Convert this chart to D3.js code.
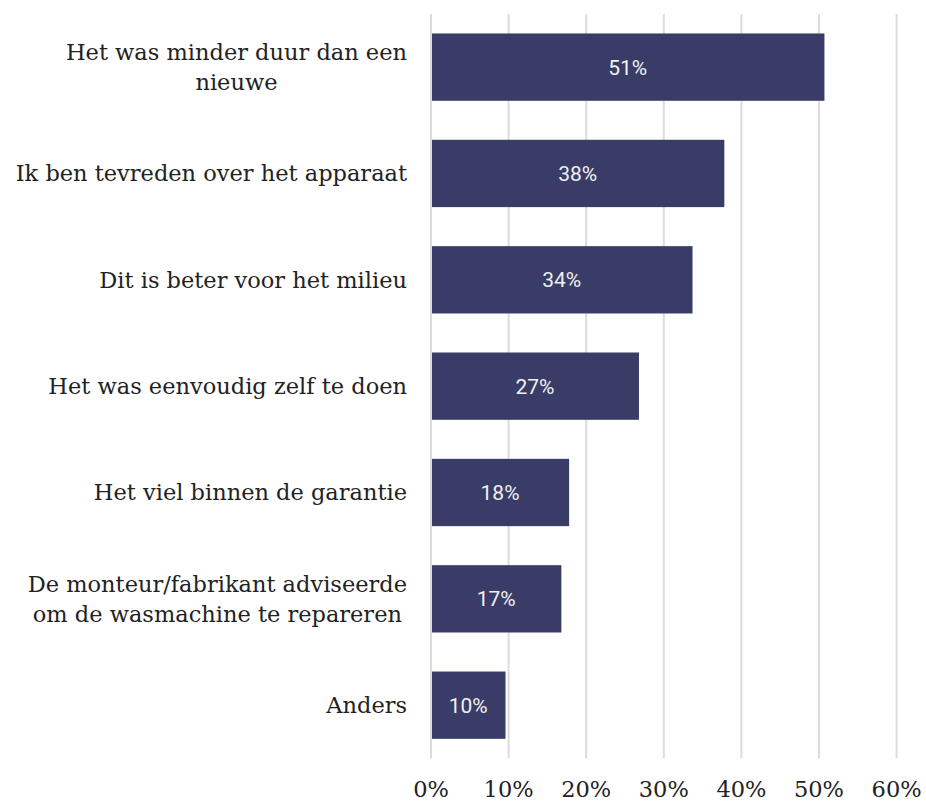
<!DOCTYPE html>
<html>
<head>
<meta charset="utf-8">
<script src="https://cdn.jsdelivr.net/npm/d3@7"></script>
<style>
  body { margin: 0; background: #fff; }
  text { font-family: "DejaVu Serif", serif; }
  text.value { font-family: Roboto, sans-serif; }
</style>
</head>
<body>
<div id="chart"></div>
<script>
// categories (line breaks kept as in the original labels)
var categories = [
    ["Het was minder duur dan een", "nieuwe"],
    ["Ik ben tevreden over het apparaat"],
    ["Dit is beter voor het milieu"],
    ["Het was eenvoudig zelf te doen"],
    ["Het viel binnen de garantie"],
    ["De monteur/fabrikant adviseerde", "om de wasmachine te repareren"],
    ["Anders"]
];
var values = [0.507, 0.378, 0.337, 0.268, 0.178, 0.168, 0.096];
var tickValues = [0, 0.1, 0.2, 0.3, 0.4, 0.5, 0.6];

var svgWidth = 926, svgHeight = 801;
var labelRight = 407;

var svg = d3.select("#chart").append("svg")
    .attr("width", svgWidth)
    .attr("height", svgHeight);

var xScale = d3.scaleLinear()
    .domain([0, 0.6])
    .range([431, 896.6]);

var yScale = d3.scaleBand()
    .domain(d3.range(categories.length))
    .range([14, 758.3])
    .paddingInner(0.367)
    .paddingOuter(0.183);

// gridlines
svg.append("g")
    .selectAll("line")
    .data(tickValues)
    .enter()
    .append("line")
    .attr("x1", d => xScale(d))
    .attr("x2", d => xScale(d))
    .attr("y1", yScale.range()[0])
    .attr("y2", yScale.range()[1])
    .attr("stroke", "#dcdcdc")
    .attr("stroke-width", 2);

// x tick labels
svg.append("g")
    .selectAll("text")
    .data(tickValues)
    .enter()
    .append("text")
    .attr("x", d => xScale(d))
    .attr("y", 797)
    .attr("text-anchor", "middle")
    .attr("font-size", 22.5)
    .attr("fill", "#222")
    .text(d3.format(".0%"));

// bars
svg.append("g")
    .selectAll("rect")
    .data(values)
    .enter()
    .append("rect")
    .attr("x", xScale(0) + 1)
    .attr("y", (d, i) => yScale(i))
    .attr("width", d => xScale(d) - xScale(0) - 1)
    .attr("height", yScale.bandwidth())
    .attr("fill", "#393c66");

// value labels
svg.append("g")
    .selectAll("text")
    .data(values)
    .enter()
    .append("text")
    .attr("class", "value")
    .attr("x", d => (xScale(0) + xScale(d)) / 2)
    .attr("y", (d, i) => yScale(i) + yScale.bandwidth() / 2 + 7.5)
    .attr("text-anchor", "middle")
    .attr("font-size", 21)
    .attr("fill", "#f0f0f0")
    .text(d3.format(".0%"));

// category labels: block right-aligned, lines centred
var lineHeight = 30;
var labels = svg.append("g")
    .selectAll("text")
    .data(categories)
    .enter()
    .append("text")
    .attr("font-size", 22.5)
    .attr("fill", "#222")
    .attr("text-anchor", "middle");

labels.each(function(lines, i) {
    var t = d3.select(this);
    var cy = yScale(i) + yScale.bandwidth() / 2 + 8 - (lines.length - 1) * lineHeight / 2;
    lines.forEach(function(line, j) {
        t.append("tspan").attr("y", cy + j * lineHeight).text(line);
    });
    var maxW = d3.max(t.selectAll("tspan").nodes(), n => n.getComputedTextLength());
    t.selectAll("tspan").attr("x", labelRight - maxW / 2);
});
</script>
</body>
</html>
